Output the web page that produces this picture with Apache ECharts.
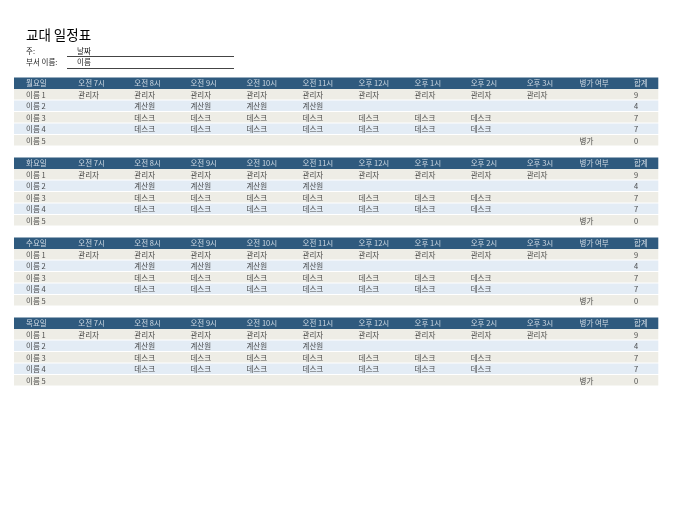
<!DOCTYPE html>
<html>
<head>
<meta charset="utf-8">
<style>html,body{margin:0;padding:0;background:#fff;}#chart{width:675px;height:520px;}</style>
<script src="https://cdn.jsdelivr.net/npm/echarts@6/dist/echarts.min.js"></script>
</head>
<body>
<div id="chart"></div>
<script>
// ---- data ----
const pageTitle = '교대 일정표';
const weekLabel = '주:';
const weekValue = '날짜';
const deptLabel = '부서 이름:';
const deptValue = '이름';
const days = ['월요일', '화요일', '수요일', '목요일'];
const timeSlots = ['오전 7시', '오전 8시', '오전 9시', '오전 10시', '오전 11시', '오후 12시', '오후 1시', '오후 2시', '오후 3시'];
const sickHeader = '병가 여부';
const totalHeader = '합계';
const names = ['이름 1', '이름 2', '이름 3', '이름 4', '이름 5'];
const shiftsName1 = ['관리자', '관리자', '관리자', '관리자', '관리자', '관리자', '관리자', '관리자', '관리자'];
const shiftsName2 = ['', '계산원', '계산원', '계산원', '계산원', '', '', '', ''];
const shiftsName3 = ['', '데스크', '데스크', '데스크', '데스크', '데스크', '데스크', '데스크', ''];
const shiftsName4 = ['', '데스크', '데스크', '데스크', '데스크', '데스크', '데스크', '데스크', ''];
const shiftsName5 = ['', '', '', '', '', '', '', '', ''];
const sickLeave = ['', '', '', '', '병가'];
const totals = [9, 4, 7, 7, 0];

// ---- layout / style ----
const FONT_FAMILY = '"Noto Sans CJK KR", "Noto Sans", sans-serif';
const HEADER_BG = '#2F5A7E';
const ROW_BG = ['#EEEDE6', '#E3ECF5'];
const HEADER_TXT = '#F2F6FA';
const BODY_TXT = '#1A1A1A';
const X_MIN = -1.1472, X_MAX = 10.348;
const NAME_POS = -0.933, SICK_POS = 8.942, TOTAL_POS = 9.914;
const SECTION_TOPS = [77.5, 157.5, 237.5, 317.5];
const ROW_H = 11.5;

const schedule = [shiftsName1, shiftsName2, shiftsName3, shiftsName4, shiftsName5];

const grids = [], xAxes = [], yAxes = [], series = [];
days.forEach((day, g) => {
  grids.push({ left: 14, top: SECTION_TOPS[g], width: 644.3, height: ROW_H * 6 });
  xAxes.push({ type: 'value', gridIndex: g, min: X_MIN, max: X_MAX, show: false });
  yAxes.push({ type: 'category', gridIndex: g, data: [day].concat(names), inverse: true, show: false });

  // row bands
  const bandData = [0, 1, 2, 3, 4, 5].map(r => [0, r]);
  series.push({
    type: 'custom', xAxisIndex: g, yAxisIndex: g, silent: true, clip: false,
    data: bandData, encode: { x: 0, y: 1 },
    renderItem: (params, api) => {
      const cs = params.coordSys;
      const r = api.value(1);
      const cy = api.coord([0, r])[1];
      const h = api.size([0, 1])[1];
      return {
        type: 'rect',
        shape: { x: cs.x, y: cy - h / 2, width: cs.width, height: r === 0 ? h : h - 1 },
        style: { fill: r === 0 ? HEADER_BG : ROW_BG[(r - 1) % 2] }
      };
    }
  });

  // header texts
  const headData = [[NAME_POS, 0, day]];
  timeSlots.forEach((t, i) => headData.push([i, 0, t]));
  headData.push([SICK_POS, 0, sickHeader]);
  headData.push([TOTAL_POS, 0, totalHeader]);

  // body texts
  const bodyData = [];
  names.forEach((n, r) => {
    bodyData.push([NAME_POS, r + 1, n]);
    schedule[r].forEach((s, i) => { if (s) bodyData.push([i, r + 1, s]); });
    if (sickLeave[r]) bodyData.push([SICK_POS, r + 1, sickLeave[r]]);
    bodyData.push([TOTAL_POS, r + 1, String(totals[r])]);
  });

  [[headData, HEADER_TXT], [bodyData, BODY_TXT]].forEach(([d, col]) => {
    series.push({
      type: 'scatter', xAxisIndex: g, yAxisIndex: g, silent: true, z: 5,
      symbolSize: 0, itemStyle: { color: 'rgba(0,0,0,0)' },
      data: d, encode: { x: 0, y: 1 },
      label: {
        show: true, position: [0, 0.3], align: 'left', verticalAlign: 'middle',
        formatter: p => p.data[2], color: col,
        fontSize: 7.5, fontFamily: FONT_FAMILY, fontWeight: 'normal'
      },
      emphasis: { disabled: true }
    });
  });
});

const chart = echarts.init(document.getElementById('chart'), null, { renderer: 'canvas' });
chart.setOption({
  backgroundColor: '#ffffff',
  animation: false,
  grid: grids, xAxis: xAxes, yAxis: yAxes, series: series,
  graphic: [
    { type: 'text', left: 26, top: 28, style: { text: pageTitle, font: '13.5px ' + FONT_FAMILY, fill: '#000' } },
    { type: 'text', x: 26, y: 51.5, style: { text: weekLabel, font: '7.5px ' + FONT_FAMILY, fill: BODY_TXT, textVerticalAlign: 'middle' } },
    { type: 'text', x: 77, y: 51.5, style: { text: weekValue, font: '7.5px ' + FONT_FAMILY, fill: BODY_TXT, textVerticalAlign: 'middle' } },
    { type: 'text', x: 26, y: 62.5, style: { text: deptLabel, font: '7.5px ' + FONT_FAMILY, fill: BODY_TXT, textVerticalAlign: 'middle' } },
    { type: 'text', x: 77, y: 62.5, style: { text: deptValue, font: '7.5px ' + FONT_FAMILY, fill: BODY_TXT, textVerticalAlign: 'middle' } },
    { type: 'line', shape: { x1: 67, y1: 56.5, x2: 234, y2: 56.5 }, style: { stroke: '#444', lineWidth: 1 } },
    { type: 'line', shape: { x1: 67, y1: 68.5, x2: 234, y2: 68.5 }, style: { stroke: '#444', lineWidth: 1 } }
  ]
});
</script>
</body>
</html>
